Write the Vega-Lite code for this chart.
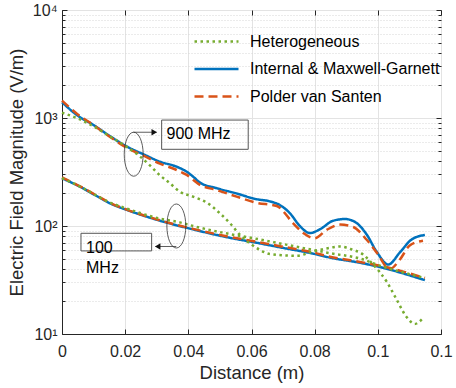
{
  "$schema": "https://vega.github.io/schema/vega-lite/v6.json",
  "autosize": "none",
  "width": 379,
  "height": 324,
  "padding": {"left": 62, "top": 10, "right": 15, "bottom": 54},
  "config": {
    "font": "Liberation Sans",
    "view": {"stroke": "#262626", "strokeWidth": 1},
    "axis": {"domainColor": "#262626", "tickColor": "#262626", "labelColor": "#262626", "titleColor": "#262626", "labelFontSize": 16, "titleFontSize": 18.5, "titleFontWeight": "normal", "labelFont": "Liberation Sans", "titleFont": "Liberation Sans"}
  },
  "datasets": {
    "curves": [
      {"model": "Internal & Maxwell-Garnett", "freq": "900", "x": 0, "y": 1400},
      {"model": "Internal & Maxwell-Garnett", "freq": "900", "x": 0.005, "y": 1050},
      {"model": "Internal & Maxwell-Garnett", "freq": "900", "x": 0.01, "y": 860},
      {"model": "Internal & Maxwell-Garnett", "freq": "900", "x": 0.015, "y": 685},
      {"model": "Internal & Maxwell-Garnett", "freq": "900", "x": 0.0205, "y": 545},
      {"model": "Internal & Maxwell-Garnett", "freq": "900", "x": 0.026, "y": 458},
      {"model": "Internal & Maxwell-Garnett", "freq": "900", "x": 0.031, "y": 394},
      {"model": "Internal & Maxwell-Garnett", "freq": "900", "x": 0.0363, "y": 354},
      {"model": "Internal & Maxwell-Garnett", "freq": "900", "x": 0.0395, "y": 318},
      {"model": "Internal & Maxwell-Garnett", "freq": "900", "x": 0.0416, "y": 285},
      {"model": "Internal & Maxwell-Garnett", "freq": "900", "x": 0.0437, "y": 252},
      {"model": "Internal & Maxwell-Garnett", "freq": "900", "x": 0.049, "y": 224},
      {"model": "Internal & Maxwell-Garnett", "freq": "900", "x": 0.0553, "y": 200},
      {"model": "Internal & Maxwell-Garnett", "freq": "900", "x": 0.0616, "y": 177},
      {"model": "Internal & Maxwell-Garnett", "freq": "900", "x": 0.0655, "y": 170},
      {"model": "Internal & Maxwell-Garnett", "freq": "900", "x": 0.069, "y": 156},
      {"model": "Internal & Maxwell-Garnett", "freq": "900", "x": 0.0722, "y": 131},
      {"model": "Internal & Maxwell-Garnett", "freq": "900", "x": 0.0753, "y": 100},
      {"model": "Internal & Maxwell-Garnett", "freq": "900", "x": 0.0785, "y": 86},
      {"model": "Internal & Maxwell-Garnett", "freq": "900", "x": 0.0816, "y": 93},
      {"model": "Internal & Maxwell-Garnett", "freq": "900", "x": 0.0859, "y": 112},
      {"model": "Internal & Maxwell-Garnett", "freq": "900", "x": 0.0896, "y": 116},
      {"model": "Internal & Maxwell-Garnett", "freq": "900", "x": 0.0932, "y": 107},
      {"model": "Internal & Maxwell-Garnett", "freq": "900", "x": 0.0964, "y": 84},
      {"model": "Internal & Maxwell-Garnett", "freq": "900", "x": 0.0996, "y": 58},
      {"model": "Internal & Maxwell-Garnett", "freq": "900", "x": 0.1033, "y": 44},
      {"model": "Internal & Maxwell-Garnett", "freq": "900", "x": 0.107, "y": 57},
      {"model": "Internal & Maxwell-Garnett", "freq": "900", "x": 0.1107, "y": 75},
      {"model": "Internal & Maxwell-Garnett", "freq": "900", "x": 0.1149, "y": 82.6},
      {"model": "Internal & Maxwell-Garnett", "freq": "100", "x": 0, "y": 277},
      {"model": "Internal & Maxwell-Garnett", "freq": "100", "x": 0.0057, "y": 231},
      {"model": "Internal & Maxwell-Garnett", "freq": "100", "x": 0.0105, "y": 193},
      {"model": "Internal & Maxwell-Garnett", "freq": "100", "x": 0.0152, "y": 162},
      {"model": "Internal & Maxwell-Garnett", "freq": "100", "x": 0.0205, "y": 141},
      {"model": "Internal & Maxwell-Garnett", "freq": "100", "x": 0.031, "y": 112},
      {"model": "Internal & Maxwell-Garnett", "freq": "100", "x": 0.0415, "y": 93},
      {"model": "Internal & Maxwell-Garnett", "freq": "100", "x": 0.052, "y": 79},
      {"model": "Internal & Maxwell-Garnett", "freq": "100", "x": 0.0627, "y": 69},
      {"model": "Internal & Maxwell-Garnett", "freq": "100", "x": 0.069, "y": 63.5},
      {"model": "Internal & Maxwell-Garnett", "freq": "100", "x": 0.0795, "y": 55.5},
      {"model": "Internal & Maxwell-Garnett", "freq": "100", "x": 0.0848, "y": 51},
      {"model": "Internal & Maxwell-Garnett", "freq": "100", "x": 0.0943, "y": 45.7},
      {"model": "Internal & Maxwell-Garnett", "freq": "100", "x": 0.1006, "y": 41.7},
      {"model": "Internal & Maxwell-Garnett", "freq": "100", "x": 0.1149, "y": 31.5},
      {"model": "Polder van Santen", "freq": "900", "x": 0, "y": 1450},
      {"model": "Polder van Santen", "freq": "900", "x": 0.005, "y": 1080},
      {"model": "Polder van Santen", "freq": "900", "x": 0.01, "y": 860},
      {"model": "Polder van Santen", "freq": "900", "x": 0.015, "y": 675},
      {"model": "Polder van Santen", "freq": "900", "x": 0.0205, "y": 530},
      {"model": "Polder van Santen", "freq": "900", "x": 0.026, "y": 445},
      {"model": "Polder van Santen", "freq": "900", "x": 0.031, "y": 378},
      {"model": "Polder van Santen", "freq": "900", "x": 0.0363, "y": 330},
      {"model": "Polder van Santen", "freq": "900", "x": 0.0395, "y": 297},
      {"model": "Polder van Santen", "freq": "900", "x": 0.0437, "y": 240},
      {"model": "Polder van Santen", "freq": "900", "x": 0.049, "y": 215},
      {"model": "Polder van Santen", "freq": "900", "x": 0.0553, "y": 187},
      {"model": "Polder van Santen", "freq": "900", "x": 0.0616, "y": 164},
      {"model": "Polder van Santen", "freq": "900", "x": 0.068, "y": 153},
      {"model": "Polder van Santen", "freq": "900", "x": 0.0732, "y": 106},
      {"model": "Polder van Santen", "freq": "900", "x": 0.0764, "y": 86},
      {"model": "Polder van Santen", "freq": "900", "x": 0.08, "y": 77},
      {"model": "Polder van Santen", "freq": "900", "x": 0.0838, "y": 92},
      {"model": "Polder van Santen", "freq": "900", "x": 0.088, "y": 103},
      {"model": "Polder van Santen", "freq": "900", "x": 0.0922, "y": 98},
      {"model": "Polder van Santen", "freq": "900", "x": 0.0964, "y": 75},
      {"model": "Polder van Santen", "freq": "900", "x": 0.0996, "y": 57},
      {"model": "Polder van Santen", "freq": "900", "x": 0.1038, "y": 40},
      {"model": "Polder van Santen", "freq": "900", "x": 0.107, "y": 49},
      {"model": "Polder van Santen", "freq": "900", "x": 0.1101, "y": 66},
      {"model": "Polder van Santen", "freq": "900", "x": 0.1143, "y": 73},
      {"model": "Polder van Santen", "freq": "100", "x": 0, "y": 282},
      {"model": "Polder van Santen", "freq": "100", "x": 0.0057, "y": 233},
      {"model": "Polder van Santen", "freq": "100", "x": 0.0105, "y": 195},
      {"model": "Polder van Santen", "freq": "100", "x": 0.0152, "y": 164},
      {"model": "Polder van Santen", "freq": "100", "x": 0.0205, "y": 142},
      {"model": "Polder van Santen", "freq": "100", "x": 0.031, "y": 113},
      {"model": "Polder van Santen", "freq": "100", "x": 0.0415, "y": 94},
      {"model": "Polder van Santen", "freq": "100", "x": 0.052, "y": 80.5},
      {"model": "Polder van Santen", "freq": "100", "x": 0.0627, "y": 70.5},
      {"model": "Polder van Santen", "freq": "100", "x": 0.069, "y": 65},
      {"model": "Polder van Santen", "freq": "100", "x": 0.0795, "y": 57},
      {"model": "Polder van Santen", "freq": "100", "x": 0.0848, "y": 52},
      {"model": "Polder van Santen", "freq": "100", "x": 0.0943, "y": 46.5},
      {"model": "Polder van Santen", "freq": "100", "x": 0.1006, "y": 43},
      {"model": "Polder van Santen", "freq": "100", "x": 0.1149, "y": 33},
      {"model": "Heterogeneous", "freq": "900", "x": 0, "y": 1120},
      {"model": "Heterogeneous", "freq": "900", "x": 0.005, "y": 990},
      {"model": "Heterogeneous", "freq": "900", "x": 0.01, "y": 835},
      {"model": "Heterogeneous", "freq": "900", "x": 0.015, "y": 680},
      {"model": "Heterogeneous", "freq": "900", "x": 0.0205, "y": 540},
      {"model": "Heterogeneous", "freq": "900", "x": 0.0247, "y": 440},
      {"model": "Heterogeneous", "freq": "900", "x": 0.028, "y": 360},
      {"model": "Heterogeneous", "freq": "900", "x": 0.031, "y": 295},
      {"model": "Heterogeneous", "freq": "900", "x": 0.0342, "y": 248},
      {"model": "Heterogeneous", "freq": "900", "x": 0.0373, "y": 208},
      {"model": "Heterogeneous", "freq": "900", "x": 0.0415, "y": 187},
      {"model": "Heterogeneous", "freq": "900", "x": 0.0458, "y": 165},
      {"model": "Heterogeneous", "freq": "900", "x": 0.05, "y": 131},
      {"model": "Heterogeneous", "freq": "900", "x": 0.0532, "y": 106},
      {"model": "Heterogeneous", "freq": "900", "x": 0.0563, "y": 83},
      {"model": "Heterogeneous", "freq": "900", "x": 0.0595, "y": 69},
      {"model": "Heterogeneous", "freq": "900", "x": 0.0627, "y": 60},
      {"model": "Heterogeneous", "freq": "900", "x": 0.0658, "y": 55},
      {"model": "Heterogeneous", "freq": "900", "x": 0.0743, "y": 53},
      {"model": "Heterogeneous", "freq": "900", "x": 0.0795, "y": 58},
      {"model": "Heterogeneous", "freq": "900", "x": 0.0838, "y": 62},
      {"model": "Heterogeneous", "freq": "900", "x": 0.088, "y": 64.5},
      {"model": "Heterogeneous", "freq": "900", "x": 0.0922, "y": 60},
      {"model": "Heterogeneous", "freq": "900", "x": 0.0943, "y": 57},
      {"model": "Heterogeneous", "freq": "900", "x": 0.0985, "y": 44},
      {"model": "Heterogeneous", "freq": "900", "x": 0.1028, "y": 30.5},
      {"model": "Heterogeneous", "freq": "900", "x": 0.1059, "y": 21},
      {"model": "Heterogeneous", "freq": "900", "x": 0.109, "y": 14.5},
      {"model": "Heterogeneous", "freq": "900", "x": 0.1117, "y": 12.4},
      {"model": "Heterogeneous", "freq": "900", "x": 0.1143, "y": 14},
      {"model": "Heterogeneous", "freq": "100", "x": 0, "y": 277},
      {"model": "Heterogeneous", "freq": "100", "x": 0.0057, "y": 232},
      {"model": "Heterogeneous", "freq": "100", "x": 0.0152, "y": 165},
      {"model": "Heterogeneous", "freq": "100", "x": 0.0205, "y": 145},
      {"model": "Heterogeneous", "freq": "100", "x": 0.031, "y": 117},
      {"model": "Heterogeneous", "freq": "100", "x": 0.0373, "y": 108},
      {"model": "Heterogeneous", "freq": "100", "x": 0.0415, "y": 100},
      {"model": "Heterogeneous", "freq": "100", "x": 0.052, "y": 85.5},
      {"model": "Heterogeneous", "freq": "100", "x": 0.0627, "y": 75},
      {"model": "Heterogeneous", "freq": "100", "x": 0.069, "y": 69},
      {"model": "Heterogeneous", "freq": "100", "x": 0.0795, "y": 60},
      {"model": "Heterogeneous", "freq": "100", "x": 0.0848, "y": 56},
      {"model": "Heterogeneous", "freq": "100", "x": 0.0943, "y": 50},
      {"model": "Heterogeneous", "freq": "100", "x": 0.1006, "y": 43},
      {"model": "Heterogeneous", "freq": "100", "x": 0.1149, "y": 33}
    ],
    "ellipses": [
      {"x": 0.0227, "y": 462},
      {"x": 0.0362, "y": 100}
    ],
    "arrows": [
      {"x": 0.0226, "x2": 0.0300, "y": 738, "dir": "triangle-right", "hx": 0.0292},
      {"x": 0.0362, "x2": 0.0296, "y": 64.6, "dir": "triangle-left", "hx": 0.0303}
    ],
    "boxes": [
      {"x": 0.03155, "x2": 0.05896, "y": 957, "y2": 513},
      {"x": 0.00601, "x2": 0.02838, "y": 85.6, "y2": 58.8}
    ],
    "labels": [
      {"x": 0.0331, "y": 706, "text": "900 MHz"},
      {"x": 0.0076, "y": 63, "text": "100"},
      {"x": 0.0076, "y": 40.6, "text": "MHz"}
    ]
  },
  "resolve": {"axis": {"x": "independent", "y": "independent"}},
  "layer": [
    {
      "encoding": {
        "x": {"field": "x", "type": "quantitative", "scale": {"domain": [0, 0.12], "nice": false, "zero": false},
          "axis": {"title": "Distance (m)", "values": [0, 0.02, 0.04, 0.06, 0.08, 0.1, 0.12], "format": "~g", "labelPadding": 14, "titlePadding": 4, "tickSize": -5, "gridColor": "#e3e3e3", "labelFlush": false}},
        "y": {"field": "y", "type": "quantitative", "scale": {"type": "log", "domain": [10, 10000], "nice": false},
          "axis": {"title": "Electric Field Magnitude (V/m)",
            "values": [10,20,30,40,50,60,70,80,90,100,200,300,400,500,600,700,800,900,1000,2000,3000,4000,5000,6000,7000,8000,9000,10000],
            "labelExpr": "datum.value==10?'10¹':datum.value==100?'10²':datum.value==1000?'10³':datum.value==10000?'10⁴':''",
            "labelPadding": 10, "titlePadding": 6,
            "tickSize": {"condition": {"test": "indexof([10,100,1000,10000], datum.value) >= 0", "value": -5}, "value": -3},
            "gridDash": {"condition": {"test": "indexof([10,100,1000,10000], datum.value) >= 0", "value": []}, "value": [1, 2]},
            "gridColor": {"condition": {"test": "indexof([10,100,1000,10000], datum.value) >= 0", "value": "#e3e3e3"}, "value": "#d6d6d6"}}}
      },
      "layer": [
        {
          "data": {"name": "curves"},
          "transform": [{"filter": "datum.model == 'Internal & Maxwell-Garnett'"}],
          "mark": {"type": "line", "interpolate": "monotone", "strokeWidth": 2.5},
          "encoding": {
            "detail": {"field": "freq"},
            "color": {"field": "model", "type": "nominal",
              "scale": {"domain": ["Heterogeneous", "Internal & Maxwell-Garnett", "Polder van Santen"], "range": ["#77AC30", "#0072BD", "#D95319"]},
              "legend": {"title": null, "orient": "none", "legendX": 143, "legendY": 20, "symbolType": "M-2.2,0H2.2", "symbolSize": 400, "symbolStrokeWidth": 2.5, "labelFontSize": 16, "labelColor": "#000000", "labelOffset": 22, "rowPadding": 7.5, "padding": 0, "labelLimit": 300}},
            "strokeDash": {"field": "model", "type": "nominal",
              "scale": {"domain": ["Heterogeneous", "Internal & Maxwell-Garnett", "Polder van Santen"], "range": [[2.5, 3.5], [1, 0], [9, 5]]},
              "legend": {"title": null, "orient": "none", "legendX": 143, "legendY": 20, "symbolType": "M-2.2,0H2.2", "symbolSize": 400, "symbolStrokeWidth": 2.5, "labelFontSize": 16, "labelColor": "#000000", "labelOffset": 22, "rowPadding": 7.5, "padding": 0, "labelLimit": 300}}
          }
        },
        {
          "data": {"name": "curves"},
          "transform": [{"filter": "datum.model == 'Polder van Santen'"}],
          "mark": {"type": "line", "interpolate": "monotone", "strokeWidth": 2.5},
          "encoding": {
            "detail": {"field": "freq"},
            "color": {"field": "model", "type": "nominal"},
            "strokeDash": {"field": "model", "type": "nominal"}
          }
        },
        {
          "data": {"name": "curves"},
          "transform": [{"filter": "datum.model == 'Heterogeneous'"}],
          "mark": {"type": "line", "interpolate": "monotone", "strokeWidth": 2.5},
          "encoding": {
            "detail": {"field": "freq"},
            "color": {"field": "model", "type": "nominal"},
            "strokeDash": {"field": "model", "type": "nominal"}
          }
        },
        {
          "data": {"name": "ellipses"},
          "mark": {"type": "point", "shape": "M0,-1A0.43,1 0 1,1 0,1A0.43,1 0 1,1 0,-1Z", "size": 1936, "filled": false, "stroke": "#333333", "strokeWidth": 0.8, "opacity": 1}
        },
        {
          "data": {"name": "arrows"},
          "mark": {"type": "rule", "color": "#333333", "strokeWidth": 0.8},
          "encoding": {"x2": {"field": "x2"}}
        },
        {
          "data": {"name": "arrows"},
          "mark": {"type": "point", "filled": true, "color": "#111111", "size": 40, "opacity": 1},
          "encoding": {"x": {"field": "hx", "type": "quantitative"}, "shape": {"field": "dir", "type": "nominal", "scale": null}}
        },
        {
          "data": {"name": "boxes"},
          "mark": {"type": "rect", "fillOpacity": 0, "stroke": "#555555", "strokeWidth": 1},
          "encoding": {"x2": {"field": "x2"}, "y2": {"field": "y2"}}
        },
        {
          "data": {"name": "labels"},
          "mark": {"type": "text", "align": "left", "baseline": "middle", "fontSize": 16, "font": "Liberation Sans", "color": "#000000"},
          "encoding": {"text": {"field": "text"}}
        }
      ]
    },
    {
      "data": {"name": "curves"},
      "mark": {"type": "point", "opacity": 0},
      "encoding": {
        "x": {"field": "x", "type": "quantitative",
          "axis": {"orient": "top", "title": null, "labels": false, "grid": false, "domain": false, "values": [0, 0.02, 0.04, 0.06, 0.08, 0.1, 0.12], "tickSize": -5}},
        "y": {"field": "y", "type": "quantitative",
          "axis": {"orient": "right", "title": null, "labels": false, "grid": false, "domain": false,
            "values": [10,20,30,40,50,60,70,80,90,100,200,300,400,500,600,700,800,900,1000,2000,3000,4000,5000,6000,7000,8000,9000,10000],
            "tickSize": {"condition": {"test": "indexof([10,100,1000,10000], datum.value) >= 0", "value": -5}, "value": -3}}}
      }
    }
  ]
}
